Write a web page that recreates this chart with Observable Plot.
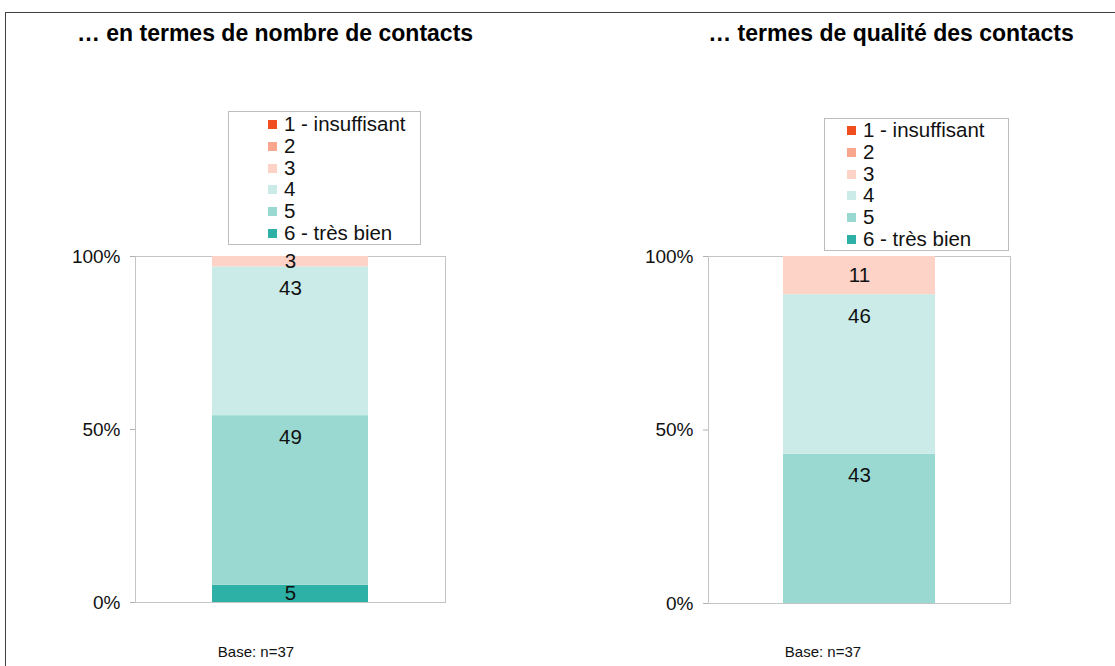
<!DOCTYPE html>
<html><head><meta charset="utf-8">
<script src="https://cdn.jsdelivr.net/npm/d3@7"></script>
<script src="https://cdn.jsdelivr.net/npm/@observablehq/plot@0.6"></script>
<style>
body{margin:0;background:#fff;font-family:"Liberation Sans",Arial,sans-serif;color:#111;}
#root{position:relative;width:1115px;height:666px;overflow:hidden;background:#fff;}
#border{position:absolute;left:5px;top:12px;width:1200px;height:800px;border:1px solid #404040;box-sizing:border-box;}
.title{position:absolute;top:20px;font-weight:bold;font-size:23px;white-space:nowrap;transform:translateX(-50%);color:#000;}
.base{position:absolute;top:643px;font-size:15px;white-space:nowrap;transform:translateX(-50%);color:#111;}
.legend{position:absolute;border:1px solid #bdbdbd;background:#fff;box-sizing:border-box;}
.legend .row{position:absolute;font-size:20.5px;line-height:22px;white-space:nowrap;color:#111;}
.legend .sw{display:inline-block;width:9px;height:9px;margin-right:7px;vertical-align:2px;}
.panel{position:absolute;top:0;}
</style></head>
<body><div id="root"><div id="border"></div></div>
<script>
// ---- data ----
const categories = ["1 - insuffisant", "2", "3", "4", "5", "6 - très bien"];
const colors = ["#F04E1E", "#F9A68E", "#FCD3C6", "#CBEBE8", "#9AD8D2", "#2DB0A5"];
const panelTitles = ["… en termes de nombre de contacts", "… termes de qualité des contacts"];
const valuesNombre = [0, 0, 3, 43, 49, 5];
const valuesQualite = [0, 0, 11, 46, 43, 0];
const yTicks = [0, 50, 100];
const baseLabels = ["Base: n=37", "Base: n=37"];

// ---- layout ----
const panels = [
  {values: valuesNombre, title: panelTitles[0], base: baseLabels[0], left: 0, width: 560,
   mL: 135, mR: 115, mT: 256, mB: 64, titleX: 275, baseX: 256,
   legend: {x: 228, y: 111, w: 193, h: 134, swX: 39, top: 1}},
  {values: valuesQualite, title: panelTitles[1], base: baseLabels[1], left: 560, width: 555,
   mL: 148, mR: 105, mT: 256, mB: 63, titleX: 891, baseX: 823,
   legend: {x: 824, y: 118, w: 185, h: 133, swX: 22, top: 0}}
];

const root = document.getElementById("root");

for (const p of panels) {
  // stacked rows: bottom = "6 - très bien", top = "1 - insuffisant"
  const rows = categories.map((c, i) => ({cat: c, value: p.values[i], idx: i})).reverse();
  let acc = 0;
  const labels = [];
  for (const r of rows) {
    const hi = acc + r.value;
    acc = hi;
    if (r.value > 0) labels.push({cat: r.cat, value: r.value, y: hi - Math.min(r.value / 2, 6.2)});
  }
  const chart = Plot.plot({
    width: p.width,
    height: 666,
    marginLeft: p.mL, marginRight: p.mR, marginTop: p.mT, marginBottom: p.mB,
    style: {fontFamily: "'Liberation Sans', Arial, sans-serif", background: "transparent", overflow: "visible"},
    x: {type: "band", domain: ["bar"], padding: 0.33, axis: null},
    y: {domain: [0, 100], axis: null},
    color: {domain: categories, range: colors},
    marks: [
      Plot.frame({stroke: "#c4c4c4"}),
      Plot.barY(rows, {x: () => "bar", y: "value", fill: "cat"}),
      Plot.axisY({ticks: yTicks, tickFormat: d => d + "%", tickSize: 5, tickPadding: 10,
                  stroke: "#b0b0b0", fill: "#111", fontSize: 19, label: null}),
      Plot.text(labels, {x: () => "bar", y: "y", text: d => String(d.value), fontSize: 20.5, fill: "#111"})
    ]
  });
  chart.classList.add("panel");
  chart.style.left = p.left + "px";
  root.appendChild(chart);

  const t = document.createElement("div");
  t.className = "title"; t.textContent = p.title; t.style.left = p.titleX + "px";
  root.appendChild(t);

  const b = document.createElement("div");
  b.className = "base"; b.textContent = p.base; b.style.left = p.baseX + "px";
  root.appendChild(b);

  const lg = document.createElement("div");
  lg.className = "legend";
  Object.assign(lg.style, {left: p.legend.x + "px", top: p.legend.y + "px", width: p.legend.w + "px", height: p.legend.h + "px"});
  categories.forEach((c, i) => {
    const r = document.createElement("div");
    r.className = "row";
    r.style.left = p.legend.swX + "px";
    r.style.top = (p.legend.top + i * 21.8) + "px";
    const sw = document.createElement("span");
    sw.className = "sw"; sw.style.background = colors[i];
    r.appendChild(sw);
    r.appendChild(document.createTextNode(c));
    lg.appendChild(r);
  });
  root.appendChild(lg);
}
</script>
</body></html>
